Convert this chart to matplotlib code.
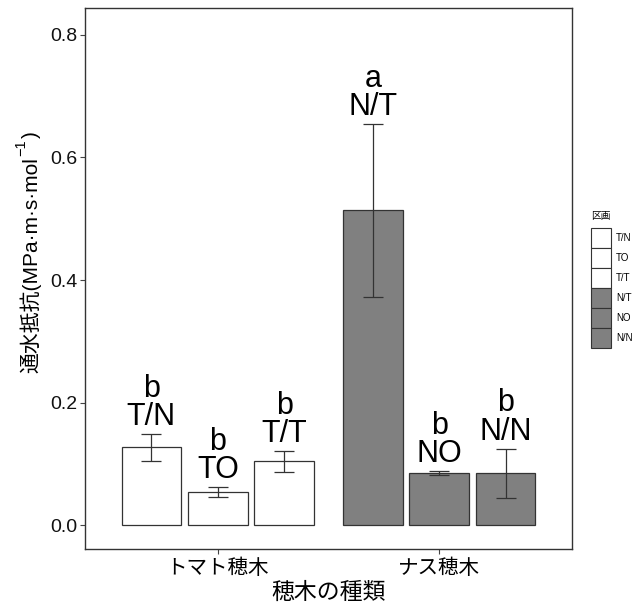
import matplotlib
matplotlib.use("Agg")
import matplotlib.pyplot as plt
from matplotlib.patches import Patch
import numpy as np

plt.rcParams['font.family'] = ['Liberation Sans', 'Noto Sans CJK JP', 'DejaVu Sans']

# data
groups = ["トマト穂木", "ナス穂木"]
treatments = ["T/N", "TO", "T/T", "N/T", "NO", "N/N"]
group_of = [0, 0, 0, 1, 1, 1]
slot_of = [0, 1, 2, 0, 1, 2]
means = [0.127, 0.054, 0.104, 0.514, 0.085, 0.085]
se = [0.022, 0.008, 0.017, 0.141, 0.003, 0.040]
letters = ["b", "b", "b", "a", "b", "b"]
fills = ["white", "white", "white", "#808080", "#808080", "#808080"]
yticks = [0.0, 0.2, 0.4, 0.6, 0.8]

W, H = 638, 608
fig = plt.figure(figsize=(W/100, H/100), dpi=100)
ax = fig.add_axes([85/W, 1-549/H, 487/W, 541/H])

dodge = 0.3
width = 0.27
for i, t in enumerate(treatments):
    x = group_of[i] + 1 + (slot_of[i] - 1) * dodge
    ax.bar(x, means[i], width=width, color=fills[i], edgecolor="#333333", linewidth=0.9, zorder=2)
    ax.errorbar(x, means[i], yerr=se[i], fmt="none", ecolor="#333333", elinewidth=0.9,
                capsize=7.5, capthick=0.9, zorder=3)
    ax.text(x, means[i] + se[i] + 0.003, f"{letters[i]}\n{t}", ha="center", va="bottom",
            fontsize=22, linespacing=0.93, family=['Liberation Sans'], zorder=4)

ax.set_xlim(0.4, 2.6)
ax.set_ylim(-0.039, 0.844)
ax.set_xticks([1, 2])
ax.set_xticklabels(groups, fontsize=14.8, family=['Noto Sans CJK JP'])
ax.set_yticks(yticks)
ax.set_yticklabels([f"{v:.1f}" for v in yticks], fontsize=14, color="#111111")
ax.tick_params(axis='both', length=3.5, width=0.8, color="#444444", pad=2)
ax.set_xlabel("穂木の種類", fontsize=16.5, family=['Noto Sans CJK JP'], labelpad=1.5)
for s in ax.spines.values():
    s.set_color("#333333")
    s.set_linewidth(1.0)

# y-axis title composed of pieces (CJK + Latin + superscript)
ylab_main = "通水抵抗(MPa·m·s·mol"
ylab_sup = "−1"
ylab_end = ")"
fs = 15
xb = 37 / W
y0 = 1 - 373 / H
renderer = fig.canvas.get_renderer()
t1 = fig.text(xb, y0, ylab_main, rotation=90, rotation_mode='anchor', ha='left', va='baseline',
              fontsize=fs, family=['Liberation Sans', 'Noto Sans CJK JP'])
bb = t1.get_window_extent(renderer)
y1 = bb.y1 / (fig.dpi * fig.get_figheight()) + 1 / H
t2 = fig.text(xb - 12 / W, y1, ylab_sup, rotation=90, rotation_mode='anchor', ha='left', va='baseline',
              fontsize=10.5, family=['Liberation Sans'])
bb2 = t2.get_window_extent(renderer)
y2 = bb2.y1 / (fig.dpi * fig.get_figheight()) + 1 / H
fig.text(xb, y2, ylab_end, rotation=90, rotation_mode='anchor', ha='left', va='baseline',
         fontsize=fs, family=['Liberation Sans'])

handles = [Patch(facecolor=fills[i], edgecolor="#333333", linewidth=0.8) for i in range(6)]
leg = fig.legend(handles, treatments, loc="upper left", bbox_to_anchor=(591/W, 1-211/H),
                 frameon=False, fontsize=7, title="区画", title_fontsize=7,
                 handlelength=2.06, handleheight=2.79, labelspacing=0.0, handletextpad=0.5,
                 borderaxespad=0, borderpad=0)
leg._legend_box.align = "left"
leg._legend_box.sep = 5
leg.get_title().set_family(['Noto Sans CJK JP'])

fig.savefig("out.png", dpi=100)
